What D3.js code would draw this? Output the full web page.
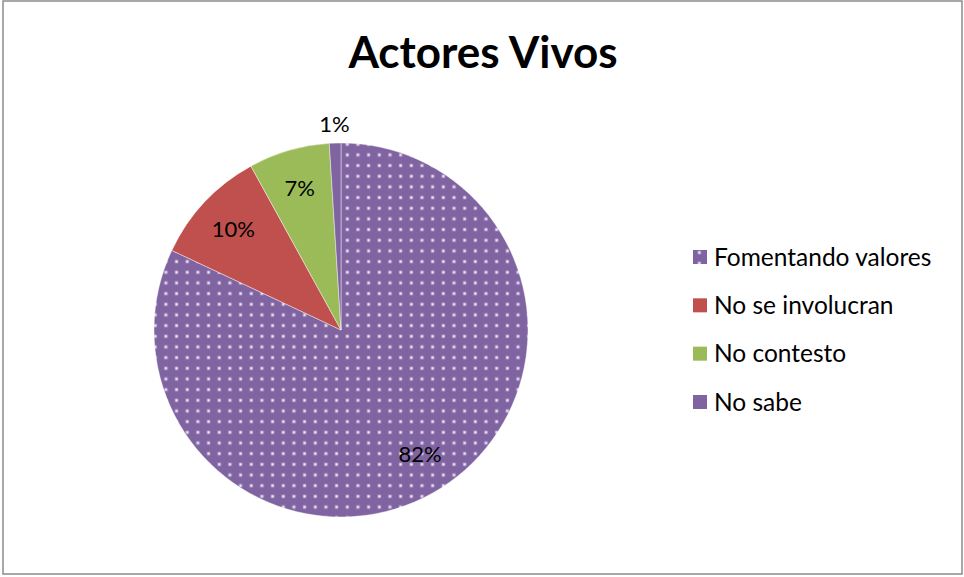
<html>
<head>
<meta charset="utf-8">
<script src="https://cdn.jsdelivr.net/npm/d3@7"></script>
<style>
  body { margin: 0; background: #fff; }
  text { font-family: Lato, "Open Sans", sans-serif; fill: #000; }
</style>
</head>
<body>
<svg width="964" height="577">
<defs>
  <pattern id="dots" patternUnits="userSpaceOnUse" width="10.67" height="10.67" x="1" y="1">
    <rect width="10.67" height="10.67" fill="#8064A2"/>
    <rect x="3.6" y="3.6" width="3.4" height="3.4" fill="#b3a2cb"/>
    <rect x="4.3" y="4.3" width="2" height="2" fill="#f4f0f8"/>
  </pattern>
</defs>
</svg>
<script>
const title = "Actores Vivos"
const categories = ["Fomentando valores", "No se involucran", "No contesto", "No sabe"]
const values = [82, 10, 7, 1]
const labels = ["82%", "10%", "7%", "1%"]
const fills = ["url(#dots)", "#C0504D", "#9BBB59", "#8064A2"]

const svg = d3.select("svg")

// chart frame
svg.append("rect").attr("x",3).attr("y",1).attr("width",959).attr("height",573)
  .attr("fill","none").attr("stroke","#8c8c8c").attr("stroke-width",1.5)

// title
svg.append("text").attr("x",483).attr("y",68).attr("text-anchor","middle")
  .attr("font-size",44).attr("font-weight","bold").text(title)

const cx = 341, cy = 330, r = 187
const g = svg.append("g").attr("transform",`translate(${cx},${cy})`)

const pie = d3.pie().sort(null).value(d => d)
const arcs = pie(values)
const arc = d3.arc().innerRadius(0).outerRadius(r)
const inLabel = d3.arc().innerRadius(r*0.79).outerRadius(r*0.79)
const outLabel = d3.arc().innerRadius(r*1.1).outerRadius(r*1.1)

g.selectAll("path.slice").data(arcs).enter().append("path").attr("class","slice")
  .attr("d",arc).attr("fill",(d,i) => fills[i])
  .attr("stroke","#ffffff").attr("stroke-opacity",0.6).attr("stroke-width",0.7)

g.selectAll("text.lbl").data(arcs).enter().append("text").attr("class","lbl")
  .attr("transform",d => `translate(${(d.data < 3 ? outLabel : inLabel).centroid(d)})`)
  .attr("text-anchor","middle").attr("dy","0.35em").attr("font-size",22)
  .text((d,i) => labels[i])

// legend
const legendY = d3.scalePoint().domain(categories).range([257, 402])
const legend = svg.append("g")
const item = legend.selectAll("g").data(categories).enter().append("g")
  .attr("transform",d => `translate(693,${legendY(d)})`)
item.append("rect").attr("x",0).attr("y",-7).attr("width",14).attr("height",14)
  .attr("fill",(d,i) => fills[i])
item.append("text").attr("x",21).attr("y",0).attr("dy","0.35em")
  .attr("font-size",24.5).text(d => d)
</script>
</body>
</html>
